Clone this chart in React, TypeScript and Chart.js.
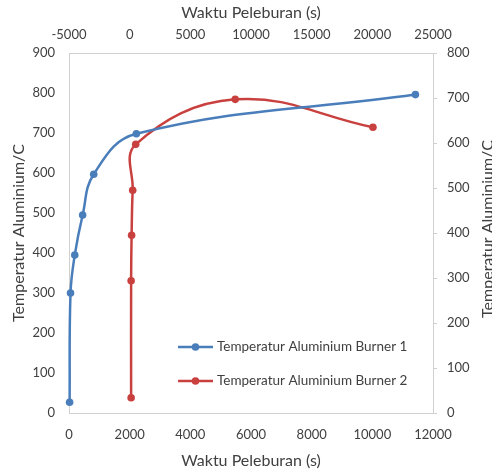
import React, { useEffect, useRef } from "react";
import { Chart, registerables } from "chart.js";

Chart.register(...registerables);

// Burner 1 (bottom time axis, left temperature axis)
const burner1Time = [20, 50, 190, 450, 815, 2220, 11420];
const burner1Temp = [27, 300, 395, 495, 597, 698, 796];

// Burner 2 (top time axis, right temperature axis)
const burner2Time = [120, 120, 160, 250, 500, 8700, 20050];
const burner2Temp = [34, 294, 395, 495, 597, 697, 635];

const seriesLabels = [
  "Temperatur Aluminium Burner 1",
  "Temperatur Aluminium Burner 2",
];
const seriesColors = ["#4a7ebb", "#c9413f"];

const xTitle = "Waktu Peleburan (s)";
const yTitle = "Temperatur Aluminium/C";

const FONT = "Lato, 'Open Sans', sans-serif";
const TEXT = "#404040";
const AXIS = "#d0d0d0";

const legendPlugin = {
  id: "insideLegend",
  afterDraw(chart: any) {
    const { ctx, chartArea } = chart;
    ctx.save();
    // right axis title, rotated like the left one
    ctx.fillStyle = TEXT;
    ctx.font = `16px ${FONT}`;
    ctx.textAlign = "center";
    ctx.textBaseline = "middle";
    ctx.translate(chartArea.right + 55, (chartArea.top + chartArea.bottom) / 2 - 4);
    ctx.rotate(-Math.PI / 2);
    ctx.fillText(yTitle, 0, 0);
    ctx.restore();

    ctx.save();
    chart.data.datasets.forEach((ds: any, i: number) => {
      const y = chartArea.bottom - 66 + i * 34;
      const x0 = chartArea.left + 109;
      const x1 = chartArea.left + 144;
      ctx.strokeStyle = ds.borderColor;
      ctx.lineWidth = 2.5;
      ctx.beginPath();
      ctx.moveTo(x0, y);
      ctx.lineTo(x1, y);
      ctx.stroke();
      ctx.fillStyle = ds.backgroundColor;
      ctx.beginPath();
      ctx.arc((x0 + x1) / 2, y, 3.8, 0, Math.PI * 2);
      ctx.fill();
      ctx.fillStyle = TEXT;
      ctx.font = `13.5px ${FONT}`;
      ctx.textAlign = "left";
      ctx.textBaseline = "middle";
      ctx.fillText(ds.label, x1 + 4, y);
    });
    ctx.restore();
  },
};

const plain = (v: any) => String(v);

export default function App() {
  const ref = useRef<HTMLCanvasElement | null>(null);

  useEffect(() => {
    if (!ref.current) return;
    const d1 = burner1Time.map((t, i) => ({ x: t, y: burner1Temp[i] }));
    const d2 = burner2Time.map((t, i) => ({ x: t, y: burner2Temp[i] }));
    const tickFont = { family: FONT, size: 13 };
    const titleFont = { family: FONT, size: 16 };
    const chart = new Chart(ref.current, {
      type: "scatter",
      data: {
        datasets: [
          {
            label: seriesLabels[0],
            data: d1,
            xAxisID: "x",
            yAxisID: "y",
            showLine: true,
            tension: 0.4,
            borderColor: seriesColors[0],
            backgroundColor: seriesColors[0],
            borderWidth: 2.5,
            pointRadius: 3.8,
            pointBorderWidth: 0,
            clip: false,
          },
          {
            label: seriesLabels[1],
            data: d2,
            xAxisID: "x2",
            yAxisID: "y2",
            showLine: true,
            tension: 0.4,
            borderColor: seriesColors[1],
            backgroundColor: seriesColors[1],
            borderWidth: 2.5,
            pointRadius: 3.8,
            pointBorderWidth: 0,
            clip: false,
          },
        ],
      },
      options: {
        responsive: false,
        animation: false,
        layout: { padding: 0 },
        plugins: {
          legend: { display: false },
          tooltip: { enabled: false },
        },
        scales: {
          x: {
            type: "linear",
            position: "bottom",
            min: 0,
            max: 12000,
            ticks: { stepSize: 2000, font: tickFont, color: TEXT, padding: 14, maxRotation: 0, callback: plain },
            grid: { display: false, drawTicks: false },
            border: { display: true, color: AXIS, width: 1 },
            title: { display: true, text: xTitle, font: titleFont, color: TEXT, padding: { top: 0, bottom: 0 } },
            afterFit: (s: any) => { s.height = 57; },
          },
          x2: {
            type: "linear",
            position: "top",
            min: -5000,
            max: 25000,
            ticks: { stepSize: 5000, font: tickFont, color: TEXT, padding: 10, maxRotation: 0, callback: plain },
            grid: { display: false, drawTicks: false },
            border: { display: true, color: AXIS, width: 1 },
            title: { display: true, text: xTitle, font: titleFont, color: TEXT, padding: { top: 3, bottom: 0 } },
            afterFit: (s: any) => { s.height = 53; },
          },
          y: {
            type: "linear",
            position: "left",
            min: 0,
            max: 900,
            ticks: { stepSize: 100, font: tickFont, color: TEXT, padding: 14, callback: plain },
            grid: { display: false, drawTicks: false },
            border: { display: true, color: AXIS, width: 1 },
            title: { display: true, text: yTitle, font: titleFont, color: TEXT, padding: { top: 9, bottom: 0 } },
            afterFit: (s: any) => { s.width = 69; },
          },
          y2: {
            type: "linear",
            position: "right",
            min: 0,
            max: 800,
            ticks: { stepSize: 100, font: tickFont, color: TEXT, padding: 10, callback: plain },
            grid: { display: true, drawOnChartArea: false, drawTicks: true, tickLength: 4, color: AXIS },
            border: { display: true, color: AXIS, width: 1 },
            afterFit: (s: any) => { s.width = 59; },
          },
        },
      },
      plugins: [legendPlugin],
    } as any);
    return () => chart.destroy();
  }, []);

  return (
    <div style={{ position: "absolute", left: 0, top: 0, width: 492, height: 470, background: "#fff" }}>
      <canvas ref={ref} width={492} height={470} />
    </div>
  );
}
